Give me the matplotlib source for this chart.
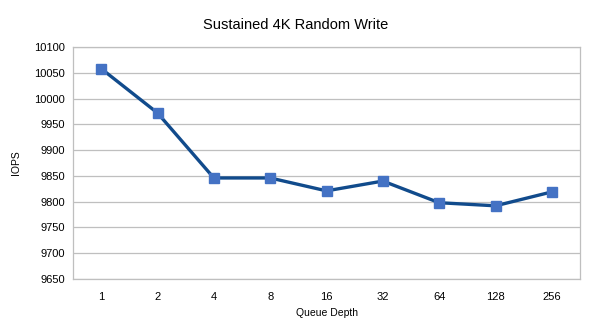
import matplotlib.pyplot as plt

# dados
profundidade = ['1', '2', '4', '8', '16', '32', '64', '128', '256']
iops = [10058, 9972, 9846, 9846, 9821, 9840, 9798, 9792, 9819]

plt.rcParams['font.family'] = ['Liberation Sans', 'DejaVu Sans']

fig = plt.figure(figsize=(5.91, 3.33), dpi=100)
ax = fig.add_axes([0.1235, 0.162, 0.858, 0.697])

x = range(len(profundidade))
# linha com marcadores quadrados
ax.plot(x, iops, color='#114B8C', linewidth=2.4, marker='s', markersize=6.5,
        markerfacecolor='#4472C4', markeredgecolor='#4472C4', zorder=3)

ax.set_xlim(-0.5, len(profundidade) - 0.5)
ax.set_ylim(9650, 10100)
ax.set_yticks(range(9650, 10101, 50))
ax.set_xticks(list(x))
ax.set_xticklabels(profundidade)
ax.tick_params(axis='both', length=0, labelsize=8, colors='#000000')
ax.tick_params(axis='x', pad=9)
ax.tick_params(axis='y', pad=6)

ax.grid(axis='y', color='#BFBFBF', linewidth=0.9)
ax.set_axisbelow(True)
for s in ax.spines.values():
    s.set_color('#BFBFBF')
    s.set_linewidth(0.9)

ax.set_xlabel('Queue Depth', fontsize=7.5, labelpad=5)
ax.set_ylabel('IOPS', fontsize=7.5, labelpad=9)
fig.text(0.5, 0.925, 'Sustained 4K Random Write', ha='center', va='center', fontsize=10.5)

fig.savefig('out.png', dpi=100)
